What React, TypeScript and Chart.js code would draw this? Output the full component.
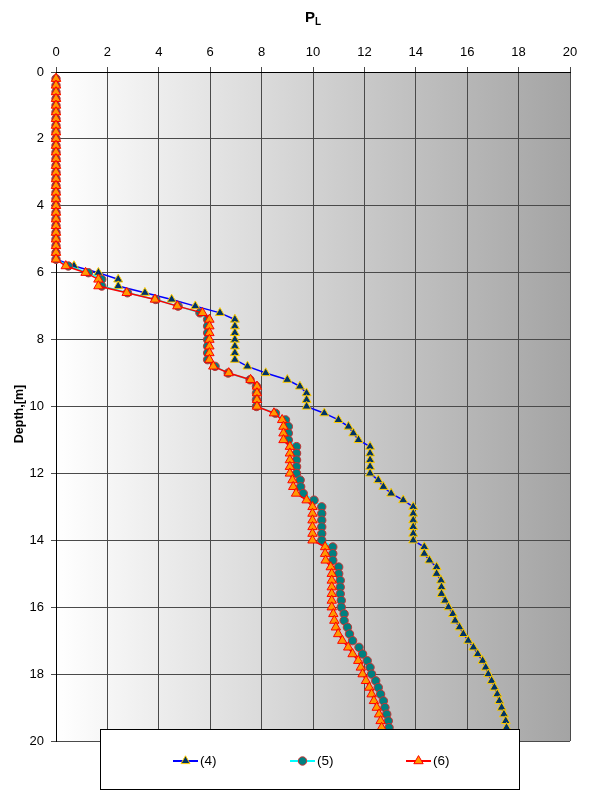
import React, { useEffect, useRef } from "react";
import { Chart, registerables, ChartConfiguration, Plugin } from "chart.js";

Chart.register(...registerables);

// depth of each reading, m
const depths = [
  0.2, 0.4, 0.6, 0.8, 1.0, 1.2, 1.4, 1.6, 1.8, 2.0,
  2.2, 2.4, 2.6, 2.8, 3.0, 3.2, 3.4, 3.6, 3.8, 4.0,
  4.2, 4.4, 4.6, 4.8, 5.0, 5.2, 5.4, 5.6, 5.8, 6.0,
  6.2, 6.4, 6.6, 6.8, 7.0, 7.2, 7.4, 7.6, 7.8, 8.0,
  8.2, 8.4, 8.6, 8.8, 9.0, 9.2, 9.4, 9.6, 9.8, 10.0,
  10.2, 10.4, 10.6, 10.8, 11.0, 11.2, 11.4, 11.6, 11.8, 12.0,
  12.2, 12.4, 12.6, 12.8, 13.0, 13.2, 13.4, 13.6, 13.8, 14.0,
  14.2, 14.4, 14.6, 14.8, 15.0, 15.2, 15.4, 15.6, 15.8, 16.0,
  16.2, 16.4, 16.6, 16.8, 17.0, 17.2, 17.4, 17.6, 17.8, 18.0,
  18.2, 18.4, 18.6, 18.8, 19.0, 19.2, 19.4, 19.6,
];

// PL values
const pl4 = [
  0, 0, 0, 0, 0, 0, 0, 0, 0, 0,
  0, 0, 0, 0, 0, 0, 0, 0, 0, 0,
  0, 0, 0, 0, 0, 0, 0, 0, 0.7, 1.65,
  2.42, 2.42, 3.46, 4.5, 5.42, 6.38, 6.96, 6.96, 6.96, 6.96,
  6.96, 6.96, 6.96, 7.45, 8.16, 9.0, 9.49, 9.75, 9.75, 9.75,
  10.44, 10.99, 11.38, 11.57, 11.77, 12.22, 12.22, 12.22, 12.22, 12.22,
  12.54, 12.74, 13.04, 13.51, 13.9, 13.9, 13.9, 13.9, 13.9, 13.9,
  14.33, 14.33, 14.53, 14.81, 14.81, 14.98, 15.0, 15.0, 15.14, 15.27,
  15.44, 15.53, 15.7, 15.85, 16.04, 16.24, 16.41, 16.6, 16.72, 16.82,
  16.95, 17.06, 17.17, 17.25, 17.34, 17.43, 17.5, 17.53,
];

const pl5 = [
  0, 0, 0, 0, 0, 0, 0, 0, 0, 0,
  0, 0, 0, 0, 0, 0, 0, 0, 0, 0,
  0, 0, 0, 0, 0, 0, 0, 0, 0.48, 1.26,
  1.78, 1.78, 2.78, 3.88, 4.75, 5.6, 5.9, 5.9, 5.9, 5.9,
  5.9, 5.9, 5.9, 6.19, 6.7, 7.55, 7.8, 7.8, 7.8, 7.8,
  8.54, 8.93, 9.04, 9.04, 9.04, 9.36, 9.36, 9.36, 9.36, 9.36,
  9.5, 9.52, 9.62, 10.04, 10.34, 10.34, 10.34, 10.34, 10.34, 10.34,
  10.77, 10.77, 10.77, 11.0, 11.0, 11.06, 11.06, 11.06, 11.1, 11.1,
  11.21, 11.21, 11.34, 11.42, 11.54, 11.79, 11.93, 12.11, 12.22, 12.28,
  12.44, 12.54, 12.63, 12.74, 12.8, 12.87, 12.93, 12.96,
];

const pl6 = [
  0, 0, 0, 0, 0, 0, 0, 0, 0, 0,
  0, 0, 0, 0, 0, 0, 0, 0, 0, 0,
  0, 0, 0, 0, 0, 0, 0, 0, 0.38, 1.15,
  1.65, 1.65, 2.75, 3.85, 4.72, 5.7, 5.97, 5.97, 5.97, 5.97,
  5.97, 5.97, 5.97, 6.12, 6.72, 7.57, 7.82, 7.82, 7.82, 7.82,
  8.48, 8.8, 8.85, 8.85, 8.85, 9.1, 9.1, 9.1, 9.1, 9.1,
  9.2, 9.23, 9.34, 9.75, 9.98, 9.98, 9.98, 9.98, 9.98, 9.98,
  10.47, 10.47, 10.49, 10.69, 10.73, 10.73, 10.73, 10.73, 10.73, 10.73,
  10.79, 10.83, 10.89, 10.98, 11.14, 11.37, 11.54, 11.76, 11.86, 11.93,
  12.06, 12.19, 12.28, 12.37, 12.48, 12.57, 12.63, 12.67,
];

const seriesNames = ["(4)", "(5)", "(6)"];

const FONT = "'Liberation Sans', Arial, sans-serif";

type Look = { line: string; fill: string; edge: string; style: "triangle" | "circle"; r: number };
const looks: Look[] = [
  { line: "#0000ff", fill: "#003366", edge: "#ffcc00", style: "triangle", r: 5.2 },
  { line: "#00ffff", fill: "#008080", edge: "#c83232", style: "circle", r: 4.2 },
  { line: "#ff0000", fill: "#ff9900", edge: "#ff0000", style: "triangle", r: 5.4 },
];

const toPoints = (vals: number[]) => vals.map((v, i) => ({ x: v, y: depths[i] }));

// same triangle shape chart.js uses
function marker(ctx: CanvasRenderingContext2D, look: Look, x: number, y: number) {
  ctx.beginPath();
  if (look.style === "circle") {
    ctx.arc(x, y, look.r, 0, Math.PI * 2);
  } else {
    let a = 0;
    ctx.moveTo(x + Math.sin(a) * look.r, y - Math.cos(a) * look.r);
    a += (Math.PI * 2) / 3;
    ctx.lineTo(x + Math.sin(a) * look.r, y - Math.cos(a) * look.r);
    a += (Math.PI * 2) / 3;
    ctx.lineTo(x + Math.sin(a) * look.r, y - Math.cos(a) * look.r);
    ctx.closePath();
  }
  ctx.fillStyle = look.fill;
  ctx.fill();
  ctx.strokeStyle = look.edge;
  ctx.lineWidth = 1;
  ctx.stroke();
}

const shading: Plugin<"scatter"> = {
  id: "shading",
  beforeDraw(chart) {
    const { ctx, chartArea: a } = chart;
    const g = ctx.createLinearGradient(a.left, 0, a.right, 0);
    g.addColorStop(0, "#ffffff");
    g.addColorStop(1, "#a4a4a4");
    ctx.save();
    ctx.fillStyle = g;
    ctx.fillRect(a.left, a.top, a.right - a.left, a.bottom - a.top);
    ctx.restore();
  },
};

const titles: Plugin<"scatter"> = {
  id: "titles",
  afterDraw(chart) {
    const { ctx, chartArea: a } = chart;
    const cx = (a.left + a.right) / 2;
    ctx.save();
    ctx.fillStyle = "#000";
    ctx.textBaseline = "alphabetic";
    ctx.textAlign = "left";
    ctx.font = `bold 15px ${FONT}`;
    const pw = ctx.measureText("P").width;
    ctx.font = `bold 10px ${FONT}`;
    const lw = ctx.measureText("L").width;
    const x0 = cx - (pw + lw) / 2;
    ctx.font = `bold 15px ${FONT}`;
    ctx.fillText("P", x0, 22);
    ctx.font = `bold 10px ${FONT}`;
    ctx.fillText("L", x0 + pw, 25);

    ctx.translate(20, 414);
    ctx.rotate(-Math.PI / 2);
    ctx.textAlign = "center";
    ctx.textBaseline = "middle";
    ctx.font = `bold 12.5px ${FONT}`;
    ctx.fillText("Depth,[m]", 0, 0);
    ctx.restore();
  },
};

const legendBox: Plugin<"scatter"> = {
  id: "legendBox",
  afterDraw(chart) {
    const ctx = chart.ctx;
    ctx.save();
    ctx.fillStyle = "#ffffff";
    ctx.fillRect(100.5, 729.5, 419, 60);
    ctx.strokeStyle = "#000";
    ctx.lineWidth = 1;
    ctx.strokeRect(100.5, 729.5, 419, 60);
    const starts = [173, 290, 406];
    const y = 761;
    seriesNames.forEach((name, i) => {
      const look = looks[i];
      const x = starts[i];
      ctx.beginPath();
      ctx.moveTo(x, y);
      ctx.lineTo(x + 25, y);
      ctx.strokeStyle = look.line;
      ctx.lineWidth = 2;
      ctx.stroke();
      marker(ctx, look, x + 12.5, y);
      ctx.fillStyle = "#000";
      ctx.font = `13.5px ${FONT}`;
      ctx.textAlign = "left";
      ctx.textBaseline = "middle";
      ctx.fillText(name, x + 27, y);
    });
    ctx.restore();
  },
};

const PLChart = () => {
  const chartRef = useRef<HTMLCanvasElement | null>(null);
  const chartInstanceRef = useRef<Chart<"scatter"> | null>(null);

  useEffect(() => {
    const ctx = chartRef.current?.getContext("2d");
    if (chartInstanceRef.current) {
      chartInstanceRef.current.destroy();
    }
    if (!ctx) return;

    const series = [pl4, pl5, pl6];
    const config: ChartConfiguration<"scatter"> = {
      type: "scatter",
      data: {
        datasets: series.map((vals, i) => ({
          label: seriesNames[i],
          data: toPoints(vals),
          showLine: true,
          borderColor: looks[i].line,
          borderWidth: 1.5,
          pointStyle: looks[i].style,
          pointRadius: looks[i].r,
          pointBackgroundColor: looks[i].fill,
          pointBorderColor: looks[i].edge,
          pointBorderWidth: 1,
          clip: false,
          order: 2 - i, // (6) on top
        })),
      },
      options: {
        animation: false,
        responsive: true,
        maintainAspectRatio: false,
        layout: { padding: { left: 0, right: 23, top: 0, bottom: 50 } },
        plugins: {
          legend: { display: false },
          title: { display: false },
          tooltip: { enabled: false },
        },
        scales: {
          x: {
            type: "linear",
            position: "top",
            min: 0,
            max: 20,
            ticks: { stepSize: 2, color: "#000", padding: 7, font: { family: FONT, size: 13 } },
            grid: { color: "#4a4a4a", lineWidth: 1, tickLength: 5 },
            border: { color: "#000", width: 1 },
            afterFit: (s) => {
              s.height = 72;
            },
          },
          y: {
            type: "linear",
            reverse: true,
            min: 0,
            max: 20,
            ticks: { stepSize: 2, color: "#000", padding: 7, font: { family: FONT, size: 13 } },
            grid: { color: "#4a4a4a", lineWidth: 1, tickLength: 5 },
            border: { color: "#000", width: 1 },
            afterFit: (s) => {
              s.width = 56;
            },
          },
        },
      },
      plugins: [shading, titles, legendBox],
    };

    chartInstanceRef.current = new Chart(ctx, config);

    return () => {
      if (chartInstanceRef.current) {
        chartInstanceRef.current.destroy();
        chartInstanceRef.current = null;
      }
    };
  }, []);

  return <canvas ref={chartRef} />;
};

export default function App() {
  return (
    <div style={{ position: "absolute", left: 0, top: 0, width: 593, height: 791, background: "#fff" }}>
      <PLChart />
    </div>
  );
}
